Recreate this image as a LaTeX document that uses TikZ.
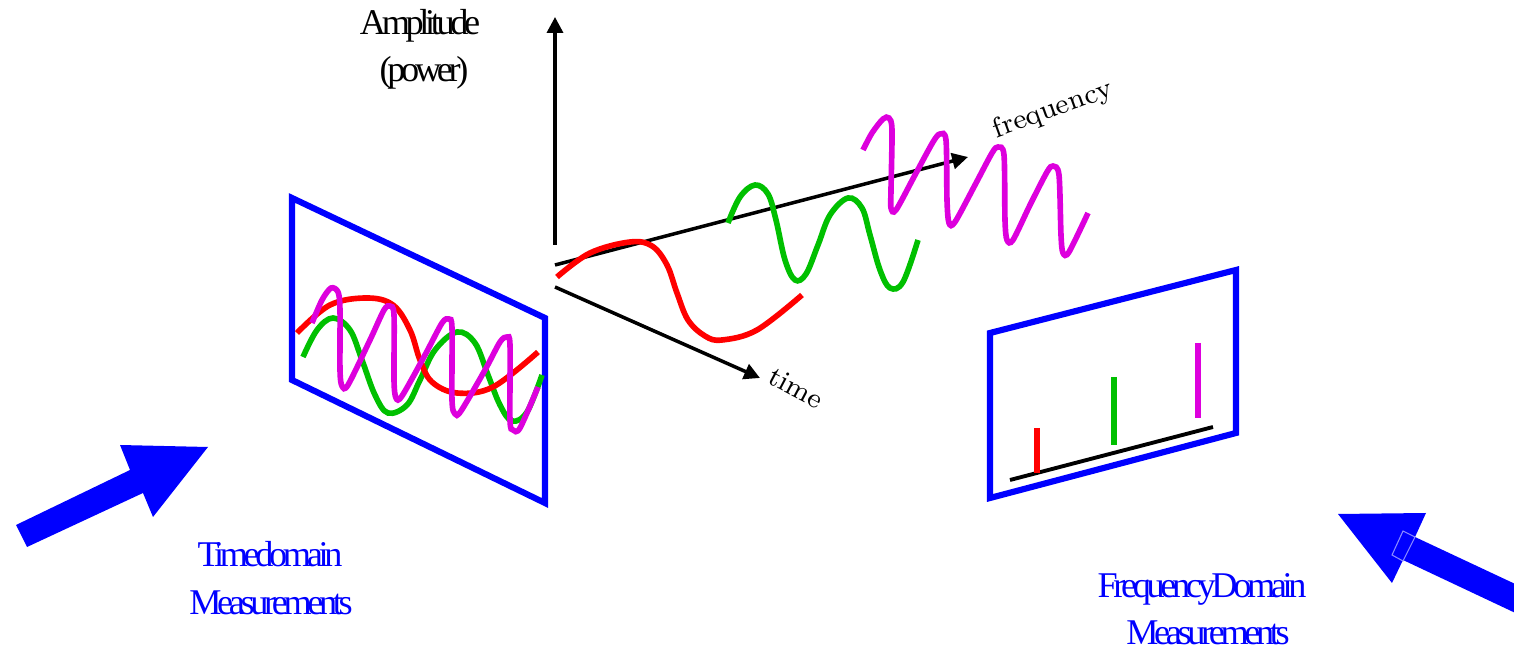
\documentclass[tikz,border=0pt]{standalone}
\usepackage{fontspec}
\usetikzlibrary{arrows.meta}
\newfontfamily\tmsfont[LetterSpace=-12]{Liberation Serif}
\definecolor{wred}{RGB}{255,0,0}
\definecolor{wgreen}{RGB}{0,192,0}
\definecolor{wmag}{RGB}{221,0,221}
\definecolor{pblue}{RGB}{0,0,255}
\begin{document}
\begin{tikzpicture}[x=0.01cm,y=-0.01cm,
  wave/.style={line width=1.6pt},
  panel/.style={draw=pblue,line width=1.75pt,line join=miter},
  axisline/.style={line width=1pt,-{Triangle[length=4.5pt,width=4.5pt]}},
  bar/.style={line width=1.7pt},
  bigarrow/.style={fill=pblue,draw=none},
  tlabel/.style={font=\tmsfont\fontsize{10.3}{12}\selectfont,anchor=base,inner sep=0pt},
  blabel/.style={tlabel,text=pblue},
  axlabel/.style={font=\fontsize{8}{9}\selectfont,inner sep=0pt}]
\useasboundingbox (0,0) rectangle (1514,652);
\clip (0,0) rectangle (1514,652);

% ---------- left panel (time domain) ----------
\draw[panel] (292,198) -- (545,318) -- (545,503) -- (292,380) -- cycle;
\draw[wave,wgreen] plot[smooth,tension=0.6] coordinates {(303,357) (317,330) (333,318) (350,330) (362,360) (375,395) (388,413) (407,405) (420,380) (435,350) (457,332) (475,343) (488,375) (500,405) (512,421) (527,412) (542,375)};
\draw[wave,wred] plot[smooth,tension=0.6] coordinates {(297,333) (330,305) (367,298) (393,305) (410,330) (420,360) (432,382) (457,393) (493,387) (538,352)};
\draw[wave,wmag] plot[smooth,tension=0.5] coordinates {(312,323) (322,300) (331,288) (338,292) (340,310) (340,370) (342,386) (348,385) (370,340) (384,310) (390,306) (394,315) (394,380) (396,398) (402,396) (425,355) (442,323) (449,319) (452,328) (452,400) (455,414) (461,411) (485,370) (500,342) (507,337) (510,345) (510,420) (513,430) (520,428) (538,387)};

% ---------- axes ----------
\coordinate (o1) at (555,245);
\coordinate (ampend) at (555,17);
\coordinate (o2) at (555,265);
\coordinate (freqend) at (968,157);
\coordinate (o3) at (555,287);
\coordinate (timeend) at (760,378);
\draw[axisline] (o1) -- (ampend);
\draw[axisline] (o2) -- (freqend);
\draw[axisline] (o3) -- (timeend);
\node[axlabel,rotate=20] (freq) at (1053,110) {frequency};
\node[axlabel,rotate=-28] (time) at (796,388) {time};

% ---------- middle waves ----------
\draw[wave,wred] plot[smooth,tension=0.6] coordinates {(557,277) (590,253) (630,242) (652,246) (667,265) (677,293) (688,320) (705,336) (722,340) (757,330) (802,295)};
\draw[wave,wgreen] plot[smooth,tension=0.6] coordinates {(728,223) (740,197) (755,185) (768,194) (776,220) (785,260) (795,280) (806,274) (818,245) (830,215) (848,198) (862,208) (870,235) (880,270) (890,288) (903,282) (918,240)};
\draw[wave,wmag] plot[smooth,tension=0.5] coordinates {(863,150) (872,133) (883,119) (889,118) (892,130) (891,190) (891,208) (896,210) (915,175) (933,142) (940,134) (946,140) (947,200) (949,223) (955,222) (975,185) (992,153) (998,147) (1004,155) (1005,220) (1007,240) (1013,240) (1030,205) (1047,172) (1053,166) (1059,175) (1061,235) (1063,253) (1069,252) (1088,213)};

% ---------- right panel (frequency domain) ----------
\draw[panel] (990,333) -- (1236,270) -- (1236,433) -- (990,498) -- cycle;
\coordinate (b1) at (1010,480);
\coordinate (b2) at (1213,427);
\draw[line width=1.1pt] (b1) -- (b2);
\draw[bar,wred] (1037,428) -- (1037,473);
\draw[bar,wgreen] (1114,377) -- (1114,445);
\draw[bar,wmag] (1198,343) -- (1198,418);

% ---------- big arrows ----------
\fill[bigarrow] (16,525) -- (130,470) -- (120,445) -- (208,447) -- (153,517) -- (143,493) -- (27,547) -- cycle;
\fill[bigarrow] (1338,514) -- (1426,513) -- (1415,537) -- (1560,605) -- (1560,634) -- (1403,560) -- (1392,583) -- cycle;
\draw[draw=pblue!45!white,line width=0.3pt] (1403,531) -- (1415,537) -- (1403,561) -- (1392,555) -- cycle;

% ---------- labels ----------
\node[tlabel] (amp) at (420,35) {Amplitude};
\node[tlabel] (pow) at (424,82) {(power)};
\node[blabel] (td1) at (270,567) {Timedomain};
\node[blabel] (td2) at (271,615) {Measurements};
\node[blabel] (fd1) at (1202,598) {FrequencyDomain};
\node[blabel] (fd2) at (1208,645) {Measurements};
\end{tikzpicture}
\end{document}
